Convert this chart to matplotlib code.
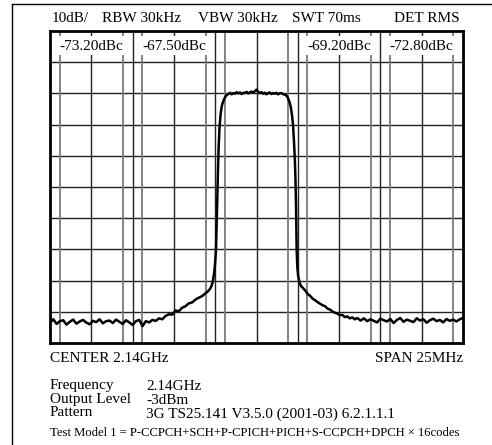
import numpy as np
import matplotlib
matplotlib.use('Agg')
import matplotlib.pyplot as plt
from matplotlib.lines import Line2D
from matplotlib.patches import Rectangle

W, H = 492, 445

# --- trace data (MHz offset from 2.14GHz, level in dB, ref at top = 0) ---
floor_left_f = np.arange(-12.5, -7.0, 0.2)
floor_left_db = [-93.6, -92.4, -93.9, -93.0, -92.7, -94.1, -93.2, -92.5, -93.8, -93.1,
                 -92.6, -93.5, -94.0, -92.9, -93.3, -92.4, -93.7, -93.0, -92.8, -93.6,
                 -92.5, -93.2, -93.9, -92.7, -93.4, -94.2, -93.0, -92.6]

skirt_left_f = [-6.9, -6.7, -6.5, -6.3, -6.1, -5.9, -5.7, -5.5, -5.3, -5.1, -4.9, -4.7,
                -4.5, -4.3, -4.1, -3.9, -3.7, -3.5, -3.3, -3.1, -2.95, -2.8, -2.7, -2.62,
                -2.55, -2.5, -2.45, -2.41, -2.37, -2.33, -2.29, -2.24, -2.18, -2.10, -2.0,
                -1.9, -1.8]
skirt_left_db = [-94.6, -93.0, -93.4, -92.6, -92.9, -92.1, -92.4, -91.3, -90.8, -90.9,
                 -89.6, -89.8, -88.7, -88.2, -87.3, -87.0, -86.1, -85.5, -85.0, -84.1,
                 -83.5, -82.6, -81.4, -79.5, -77.0, -74.0, -70.0, -62.0, -53.0, -44.0,
                 -37.0, -31.0, -27.0, -24.0, -22.3, -21.2, -20.5]

plateau_f = np.arange(-1.7, 1.75, 0.1)
plateau_db = [-20.2, -19.8, -20.3, -19.9, -20.1, -19.6, -20.0, -19.7, -20.2, -19.8,
              -19.9, -19.5, -20.0, -19.7, -19.4, -19.8, -19.3, -18.8, -19.5, -19.9,
              -19.6, -20.1, -19.8, -20.3, -19.9, -19.7, -20.2, -19.9, -20.1, -19.8,
              -20.3, -20.0, -19.9, -20.2, -20.4]

skirt_right_f = [1.8, 1.9, 2.0, 2.08, 2.15, 2.21, 2.27, 2.32, 2.36, 2.39, 2.41, 2.43,
                 2.47, 2.52, 2.6, 2.7, 2.82, 2.95, 3.1, 3.25, 3.4, 3.55, 3.7, 3.85, 4.0,
                 4.15, 4.3, 4.45, 4.6, 4.75, 4.9, 5.05, 5.2, 5.35, 5.5, 5.65, 5.8, 5.95, 6.1]
skirt_right_db = [-20.6, -21.4, -22.8, -24.5, -27.0, -30.0, -35.5, -41.0, -48.0, -55.0,
                  -63.0, -70.0, -75.5, -78.5, -80.6, -81.8, -82.4, -83.2, -84.3, -84.9,
                  -85.8, -86.3, -86.9, -87.4, -87.9, -88.2, -89.0, -89.3, -89.9, -90.3,
                  -90.6, -91.1, -91.0, -91.7, -91.5, -92.1, -91.8, -92.4, -92.0]

floor_right_f = np.arange(6.3, 12.55, 0.2)
floor_right_db = [-92.8, -92.1, -93.0, -92.4, -92.9, -93.4, -92.2, -92.7, -93.1, -92.3,
                  -93.6, -92.6, -92.0, -93.2, -92.5, -92.9, -93.3, -92.1, -92.8, -92.4,
                  -93.5, -92.7, -92.2, -93.0, -92.6, -93.4, -92.3, -92.9, -92.5, -93.1,
                  -92.4, -92.0]

# channel centres (MHz) and measured ACLR
chan_centres = [-10, -5, 5, 10]
chan_labels = ['-73.20dBc', '-67.50dBc', '-69.20dBc', '-72.80dBc']
chan_bw = 3.84

freq = np.concatenate([floor_left_f, skirt_left_f, plateau_f, skirt_right_f, floor_right_f])
level = np.concatenate([floor_left_db, skirt_left_db, plateau_db, skirt_right_db, floor_right_db])

plt.rcParams['font.family'] = ['Liberation Serif', 'DejaVu Serif']

fig = plt.figure(figsize=(W / 100, H / 100), dpi=100)
fig.patch.set_facecolor('white')

ax = fig.add_axes([50 / W, 1 - 343 / H, 413 / W, 312 / H])
ax.set_xlim(-12.5, 12.5)
ax.set_ylim(-100, 0)
ax.set_xticks([])
ax.set_yticks([])
for s in ax.spines.values():
    s.set_linewidth(2)
    s.set_color('black')
    s.set_zorder(6)

# grid 10 x 10
for gx in np.arange(-10, 12.5, 2.5):
    ax.axvline(gx, color='#222222', lw=1, zorder=1)
for gy in np.arange(-90, 0, 10):
    ax.axhline(gy, color='#222222', lw=1, zorder=1)

# channel edges
edges = [0] + chan_centres
for c in edges:
    for e in (c - chan_bw / 2, c + chan_bw / 2):
        ax.axvline(e, color='#7a7a7a', lw=1.3, zorder=1.5)

# dBc labels in white boxes
for c, lab in zip(chan_centres, chan_labels):
    ax.add_patch(Rectangle((c - chan_bw / 2 - 0.06, -7.7), chan_bw + 0.12, 6.1,
                           facecolor='white', edgecolor='none', zorder=2))
    ax.text(c, -5, lab, ha='center', va='center', fontsize=11, zorder=4)

ax.plot(freq, level, color='black', lw=1.8, zorder=3)

# outer frame (left and top only)
fig.add_artist(Line2D([12 / W, 12 / W], [0, 1 - 4 / H], color='black', lw=1))
fig.add_artist(Line2D([12 / W, 1], [1 - 4 / H, 1 - 4 / H], color='black', lw=1))

def ftxt(x, y, s, **kw):
    kw.setdefault('fontsize', 11)
    fig.text(x / W, 1 - y / H, s, va='center', **kw)

ftxt(52, 18, '10dB/')
ftxt(102, 18, 'RBW 30kHz')
ftxt(198, 18, 'VBW 30kHz')
ftxt(292, 18, 'SWT 70ms')
ftxt(394, 18, 'DET RMS')

ftxt(50, 358, 'CENTER 2.14GHz')
ftxt(463, 358, 'SPAN 25MHz', ha='right')

ftxt(50, 385, 'Frequency')
ftxt(146, 387, '2.14GHz')
ftxt(50, 400, 'Output Level')
ftxt(146, 401, '-3dBm')
ftxt(50, 413, 'Pattern')
ftxt(146, 414, '3G TS25.141 V3.5.0 (2001-03) 6.2.1.1.1')
ftxt(50, 433, 'Test Model 1 = P-CCPCH+SCH+P-CPICH+PICH+S-CCPCH+DPCH \u00d7 16codes',
     fontsize=9.1)

fig.savefig('out.png', dpi=100)
